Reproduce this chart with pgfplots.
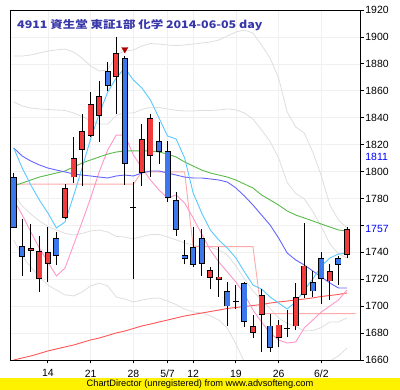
\documentclass[border=0pt]{standalone}
\usepackage{fontspec}
\setmainfont{Liberation Sans}
\newfontfamily\cjk{Noto Sans CJK JP}[FakeStretch=1.19]
\usepackage{pgfplots}
\usepackage{pgfplotstable}
\pgfplotsset{compat=1.18}
\definecolor{candred}{RGB}{240,60,60}
\definecolor{candblue}{RGB}{60,120,235}
\definecolor{cyanl}{RGB}{90,200,255}
\definecolor{bluel}{RGB}{100,100,255}
\definecolor{greenl}{RGB}{90,185,75}
\definecolor{pinkl}{RGB}{255,150,200}
\definecolor{salmonl}{RGB}{255,170,170}
\definecolor{redl}{RGB}{255,85,85}
\definecolor{grayl}{RGB}{222,222,222}
\definecolor{titleblue}{RGB}{55,55,170}
\definecolor{darkredm}{RGB}{170,0,0}

\pgfplotstableread{
i cy bl gr pk rd ga gb gc gd
0 1817.5 1817.5 1789.3 1778.9 1660.0 1885.8 1851.7 1783.4 1749.2
1 1802.6 1811.5 1791.5 1767.7 1661.5 1885.8 1848.7 1774.4 1737.2
2 1790.0 1807.8 1793.7 1755.1 1663.0 1886.6 1847.2 1768.4 1729.0
3 1778.9 1804.9 1795.9 1743.2 1664.8 1888.1 1846.5 1763.3 1721.7
4 1769.2 1802.6 1797.4 1732.8 1666.7 1889.5 1846.1 1759.2 1715.7
5 1758.1 1801.1 1798.9 1722.4 1668.2 1890.3 1845.7 1756.5 1711.9
6 1762.5 1799.7 1800.4 1728.3 1669.7 1891.0 1845.4 1754.1 1708.4
7 1781.8 1798.2 1803.4 1745.4 1671.1 1888.8 1843.5 1752.9 1707.6
8 1802.6 1797.4 1806.3 1762.5 1673.0 1884.3 1840.9 1754.0 1710.5
9 1824.2 1796.7 1808.6 1780.3 1674.9 1878.4 1837.6 1755.9 1715.0
10 1842.7 1795.9 1810.8 1799.7 1676.3 1874.7 1835.3 1756.5 1717.1
11 1859.1 1795.2 1813.0 1816.0 1678.2 1875.4 1835.3 1755.1 1715.0
12 1869.5 1796.7 1814.5 1827.1 1680.1 1886.6 1841.7 1751.8 1706.8
13 1876.9 1797.4 1815.3 1827.1 1681.5 1889.5 1843.5 1751.4 1705.3
14 1868.0 1796.7 1815.3 1812.3 1683.4 1890.3 1843.5 1749.9 1703.1
15 1862.1 1798.9 1815.3 1802.6 1685.3 1893.3 1846.1 1751.7 1704.5
16 1853.1 1800.4 1815.3 1793.7 1686.7 1895.1 1847.8 1753.1 1705.7
17 1839.8 1800.4 1814.5 1786.3 1688.2 1894.7 1847.6 1753.3 1706.1
18 1826.4 1798.9 1813.0 1780.3 1689.7 1894.0 1846.5 1751.4 1703.8
19 1824.2 1797.4 1810.8 1782.6 1691.2 1893.6 1845.5 1749.3 1701.2
20 1810.1 1795.9 1807.1 1776.6 1692.7 1894.0 1845.0 1746.9 1697.8
21 1784.1 1795.2 1804.1 1765.5 1693.8 1894.7 1845.0 1745.5 1695.7
22 1769.2 1795.2 1801.1 1753.6 1694.9 1895.5 1845.4 1745.1 1694.9
23 1756.6 1794.5 1798.9 1741.7 1696.0 1896.2 1845.4 1743.7 1692.8
24 1749.1 1793.7 1797.4 1732.8 1697.1 1897.7 1845.7 1741.7 1689.7
25 1743.2 1792.2 1795.9 1725.4 1698.3 1900.7 1846.5 1738.0 1683.7
26 1735.8 1787.8 1793.7 1717.9 1699.0 1903.7 1845.8 1729.9 1671.9
27 1725.4 1781.8 1790.7 1709.0 1699.7 1905.1 1843.5 1720.2 1658.5
28 1715.7 1775.1 1787.8 1697.1 1700.5 1902.9 1839.0 1711.2 1647.3
29 1712.7 1767.7 1782.6 1688.2 1701.2 1894.0 1830.9 1704.6 1641.4
30 1706.8 1760.3 1778.9 1680.1 1702.3 1884.3 1822.3 1698.3 1636.3
31 1702.3 1750.6 1775.1 1674.9 1703.1 1869.5 1810.1 1691.2 1631.7
32 1697.9 1739.5 1770.7 1672.6 1703.8 1844.2 1791.9 1687.2 1634.8
33 1703.1 1734.3 1767.7 1673.4 1704.6 1833.1 1783.7 1684.9 1635.5
34 1712.0 1730.6 1765.5 1683.8 1705.3 1828.6 1779.6 1681.6 1632.6
35 1720.2 1726.1 1763.3 1689.7 1706.1 1814.5 1770.3 1681.9 1637.7
36 1729.8 1721.7 1761.0 1695.7 1707.2 1796.7 1759.2 1684.2 1646.7
37 1735.8 1717.2 1758.8 1700.1 1707.9 1775.1 1746.2 1688.3 1659.3
38 1738.7 1713.5 1756.6 1704.6 1708.7 1764.0 1738.8 1688.3 1663.0
39 1739.5 1713.5 1755.8 1712.0 1709.8 1758.1 1735.8 1691.2 1668.9
}\lines

\pgfplotstableread{
i sa
0 1790.7
14 1790.7
15 1799.7
20 1799.7
21 1744.2
28 1744.2
29 1694.5
40 1694.5
}\salmon

\pgfplotstableread{
i o h l c
2 1741.5 1761.0 1725.4 1743.0
3 1720.7 1752.1 1710.7 1740.7
4 1731.8 1758.8 1717.6 1740.0
6 1766.0 1790.5 1765.0 1787.5
7 1795.9 1825.9 1791.7 1809.8
8 1816.5 1842.7 1789.3 1829.9
9 1826.9 1859.1 1825.7 1850.0
10 1841.8 1867.3 1822.2 1855.9
12 1870.7 1899.7 1842.5 1887.8
15 1799.3 1835.3 1789.6 1824.0
16 1811.8 1842.6 1796.2 1839.5
23 1721.4 1728.9 1712.5 1726.3
24 1720.0 1743.7 1707.0 1721.7
28 1680.6 1693.1 1676.1 1684.7
29 1694.0 1712.7 1666.2 1707.9
31 1676.9 1689.7 1669.4 1686.0
33 1685.3 1717.0 1682.3 1706.6
34 1708.8 1762.0 1705.8 1729.8
37 1718.7 1731.1 1704.6 1725.9
39 1738.5 1758.8 1735.5 1757.0
}\upc

\pgfplotstableread{
i o h l c
0 1795.7 1798.7 1758.0 1758.6
1 1744.5 1764.7 1722.6 1737.0
5 1750.4 1755.3 1730.6 1737.5
11 1874.5 1881.6 1859.8 1864.1
13 1884.1 1885.6 1790.0 1806.1
17 1822.5 1837.0 1805.6 1814.9
18 1815.0 1822.7 1777.7 1780.9
19 1778.6 1784.6 1752.1 1757.1
20 1737.6 1749.1 1731.1 1735.5
21 1743.7 1758.6 1729.1 1731.1
22 1750.4 1757.1 1722.6 1731.8
25 1711.0 1717.7 1685.5 1700.1
27 1717.0 1717.9 1684.7 1688.5
30 1685.3 1694.2 1666.2 1669.4
35 1717.7 1726.1 1707.0 1711.3
36 1735.5 1740.4 1701.6 1720.7
38 1735.5 1737.3 1715.7 1731.1
}\dnc

\pgfplotstableread{
i o h l c
14 1773.3 1792.4 1720.0 1773.3
26 1703.5 1715.7 1697.9 1703.5
32 1683.3 1697.1 1677.1 1683.3
}\doji

\pgfplotsset{
  wick/.style={draw=none, mark=none, forget plot,
    error bars/.cd, y dir=plus, y explicit, error mark=none,
    error bar style={draw=black, line width=0.9bp}},
  bodyline/.style={draw=none, mark=none, forget plot,
    error bars/.cd, y dir=plus, y explicit, error mark=none,
    error bar style={#1}},
}

\begin{document}
\begin{tikzpicture}
\useasboundingbox (0,0) rectangle (400bp,390bp);
\begin{axis}[
  at={(10.7bp,30bp)}, anchor=south west,
  scale only axis, width=350bp, height=350bp,
  xmin=-0.351, xmax=40.604, ymin=1660, ymax=1920,
  ytick={1660,1680,1700,1720,1740,1760,1780,1800,1820,1840,1860,1880,1900,1920},
  yticklabels={1660,1680,1700,1720,1740,,1780,1800,1820,1840,1860,1880,1900,1920},
  xtick={4,9,14,18,21,26,31,36},
  xticklabels={14,21,28,5/7,12,19,26,6/2},
  xtick pos=left, ytick pos=right, yticklabel pos=right,
  tick align=outside, major tick length=3.5bp,
  tick style={black, line width=0.8bp},
  axis line style={black, line width=0.8bp},
  grid=major, major grid style={black!6, line width=0.6bp},
  tick label style={font=\fontsize{10.5}{12}\selectfont, /pgf/number format/assume math mode=true},
  /pgf/number format/1000 sep={},
  yticklabel style={anchor=west, inner sep=0pt, xshift=1bp},
  xticklabel style={inner sep=0pt, yshift=-6bp},
  extra y ticks={1757,1811},
  extra y tick labels={1757,1811},
  extra y tick style={grid=none, major tick length=3.5bp, tick style={draw=none}, yticklabel style={text=blue}},
]
% Bollinger-type grey bands
\addplot[grayl, line width=0.8bp] table[x=i,y=ga]{\lines};
\addplot[grayl, line width=0.8bp] table[x=i,y=gb]{\lines};
\addplot[grayl, line width=0.8bp] table[x=i,y=gc]{\lines};
\addplot[grayl, line width=0.8bp] table[x=i,y=gd]{\lines};
% other lines
\addplot[redl, line width=0.9bp] table[x=i,y=rd]{\lines};
\addplot[salmonl, line width=0.9bp] table[x=i,y=sa]{\salmon};
\addplot[pinkl, line width=0.9bp] table[x=i,y=pk]{\lines};
\addplot[greenl, line width=0.9bp] table[x=i,y=gr]{\lines};
\addplot[bluel, line width=0.9bp] table[x=i,y=bl]{\lines};
\addplot[cyanl, line width=0.9bp] table[x=i,y=cy]{\lines};
% wicks
\addplot[wick] table[x=i, y=l, y error expr=\thisrow{h}-\thisrow{l}]{\upc};
\addplot[wick] table[x=i, y=l, y error expr=\thisrow{h}-\thisrow{l}]{\dnc};
\addplot[wick] table[x=i, y=l, y error expr=\thisrow{h}-\thisrow{l}]{\doji};
% bodies: up (red)
\addplot[bodyline={draw=black, line width=6bp}] table[x=i, y expr=\thisrow{o}-0.3, y error expr=\thisrow{c}-\thisrow{o}+0.6]{\upc};
\addplot[bodyline={draw=candred, line width=4.4bp}] table[x=i, y expr=\thisrow{o}+0.3, y error expr=\thisrow{c}-\thisrow{o}-0.6]{\upc};
% bodies: down (blue)
\addplot[bodyline={draw=black, line width=6bp}] table[x=i, y expr=\thisrow{c}-0.3, y error expr=\thisrow{o}-\thisrow{c}+0.6]{\dnc};
\addplot[bodyline={draw=candblue, line width=4.4bp}] table[x=i, y expr=\thisrow{c}+0.3, y error expr=\thisrow{o}-\thisrow{c}-0.6]{\dnc};
% doji
\addplot[bodyline={draw=black, line width=6bp}] table[x=i, y expr=\thisrow{o}-0.3, y error expr=0.6]{\doji};
% high marker
\addplot[only marks, mark=triangle*, mark size=3.6bp, mark options={rotate=180, fill=darkredm, draw=darkredm}] coordinates {(13,1890.8)};
\end{axis}
\node[anchor=west, inner sep=0pt, text=titleblue] at (17bp,365bp) {\cjk\bfseries\fontsize{10.5}{12}\selectfont 4911 資生堂 東証1部 化学 2014-06-05 day};
\fill[yellow] (0,0) rectangle (400bp,12bp);
\node[inner sep=0pt] at (200bp,6bp) {\fontsize{9.3}{10}\selectfont ChartDirector (unregistered) from www.advsofteng.com};
\end{tikzpicture}
\end{document}
